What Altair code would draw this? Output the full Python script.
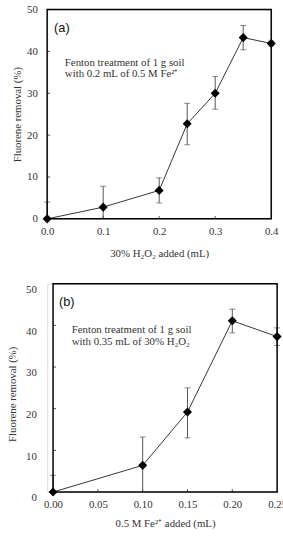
import altair as alt
import pandas as pd

# ---- data ----
# Panel (a): 30% H2O2 added (mL)
a_x = [0.0, 0.1, 0.2, 0.25, 0.3, 0.35, 0.4]
a_y = [0.0, 2.8, 6.8, 22.7, 30.0, 43.3, 41.9]
a_lo = [0.0, 0.0, 3.8, 17.7, 26.2, 40.4, 41.3]
a_hi = [4.0, 7.8, 9.8, 27.6, 34.0, 46.2, 42.5]

# Panel (b): 0.5 M Fe2+ added (mL)
b_x = [0.0, 0.10, 0.15, 0.20, 0.25]
b_y = [0.0, 6.4, 19.2, 41.1, 37.3]
b_lo = [0.0, 0.0, 13.0, 38.2, 35.2]
b_hi = [4.0, 13.2, 25.0, 43.9, 39.4]

a_note = ["Fenton treatment of 1 g soil", "with 0.2 mL of 0.5 M Fe²⁺"]
b_note = ["Fenton treatment of 1 g soil", "with 0.35 mL of 30% H₂O₂"]

y_ticks = [0, 10, 20, 30, 40, 50]
a_xticks = [0.0, 0.1, 0.2, 0.3, 0.4]
b_xticks = [0.0, 0.05, 0.10, 0.15, 0.20, 0.25]

SERIF = "Liberation Serif"
SANS = "Liberation Sans"
TXT = "#333333"


def panel(xs, ys, lo, hi, xticks, xfmt, xtitle, xtitle_pad, ytitle_x, ylab_pad,
          x0, label, label_x, note, note_x, note_y, w, h):
    df = pd.DataFrame({"x": xs, "y": ys, "lo": lo, "hi": hi})
    caps = pd.DataFrame(
        [{"x": x, "c": v} for x, l, u in zip(xs, lo, hi) for v in (l, u) if v > 0]
    )
    xs_ = alt.Scale(domain=[xticks[0], xticks[-1]], range=[x0, x0 + w], nice=False)
    ys_ = alt.Scale(domain=[0, 50], nice=False)
    xax = alt.Axis(values=xticks, format=xfmt, title=xtitle, ticks=False, domain=False,
                   labelFont=SERIF, labelFontSize=11, labelColor=TXT, labelPadding=7,
                   titleFont=SERIF, titleFontSize=11, titleFontWeight="normal",
                   titleColor=TXT, titlePadding=xtitle_pad, grid=False, labelFlush=False)
    yax = alt.Axis(values=y_ticks, title="Fluorene removal (%)", ticks=False, domain=False,
                   labelFont=SERIF, labelFontSize=11, labelColor=TXT, labelPadding=ylab_pad,
                   titleFont=SERIF, titleFontSize=11, titleFontWeight="normal",
                   titleColor=TXT, titleX=ytitle_x, position=x0, grid=False,
                   labelFlush=False)
    base = alt.Chart(df)
    err = base.mark_rule(color="#555555", strokeWidth=1).encode(
        x=alt.X("x:Q", scale=xs_, axis=xax), y=alt.Y("lo:Q", scale=ys_, axis=yax), y2="hi:Q")
    cap = alt.Chart(caps).mark_tick(color="#555555", orient="horizontal", size=6,
                                   thickness=1).encode(
        x=alt.X("x:Q", scale=xs_), y=alt.Y("c:Q", scale=ys_))
    line = base.mark_line(color="#333333", strokeWidth=1).encode(
        x=alt.X("x:Q", scale=xs_), y=alt.Y("y:Q", scale=ys_))
    pts = base.mark_point(shape="diamond", filled=True, color="black", size=85,
                          opacity=1).encode(
        x=alt.X("x:Q", scale=xs_), y=alt.Y("y:Q", scale=ys_))
    yt = alt.Chart(pd.DataFrame({"t": y_ticks[1:-1]})).mark_rule(
        color="#555555", strokeWidth=1).encode(
        y=alt.Y("t:Q", scale=ys_), x=alt.value(x0), x2=alt.value(x0 + 3))
    xt = alt.Chart(pd.DataFrame({"t": xticks[1:-1]})).mark_rule(
        color="#555555", strokeWidth=1).encode(
        x=alt.X("t:Q", scale=xs_), y=alt.value(h), y2=alt.value(h - 3))
    frame = alt.Chart(pd.DataFrame({"t": [0]})).mark_rect(
        filled=False, color="black", strokeWidth=1.5).encode(
        x=alt.value(x0), x2=alt.value(x0 + w), y=alt.value(0), y2=alt.value(h))
    lab = alt.Chart(pd.DataFrame({"t": [label]})).mark_text(
        font=SANS, fontSize=13, color="#111111", align="left", baseline="middle").encode(
        text="t:N", x=alt.value(label_x), y=alt.value(19))
    notes = []
    for i, line_txt in enumerate(note):
        notes.append(alt.Chart(pd.DataFrame({"t": [line_txt]})).mark_text(
            font=SERIF, fontSize=11, color=TXT, align="left", baseline="middle").encode(
            text="t:N", x=alt.value(note_x), y=alt.value(note_y + 12 * i)))
    return alt.layer(err, cap, line, pts, yt, xt, frame, lab, *notes).properties(
        width=x0 + w, height=h)


pa = panel(a_x, a_y, a_lo, a_hi, a_xticks, ".1f", "30% H₂O₂ added (mL)", 11, -25.5, 10,
           0, "(a)", 7, a_note, 18, 54, 228, 213)
pb = panel(b_x, b_y, b_lo, b_hi, b_xticks, ".2f", "0.5 M Fe²⁺ added (mL)", 8, -30.5, 11,
           6, "(b)", 12, b_note, 25, 47, 228, 212)

chart = alt.concat(pa, pb, columns=1, spacing=23).properties(
    padding={"left": 6, "top": -2, "right": -5, "bottom": 0}
).configure_view(strokeWidth=0).configure(background="white")

chart.save("out.html", embed_options={"renderer": "svg", "actions": False})
